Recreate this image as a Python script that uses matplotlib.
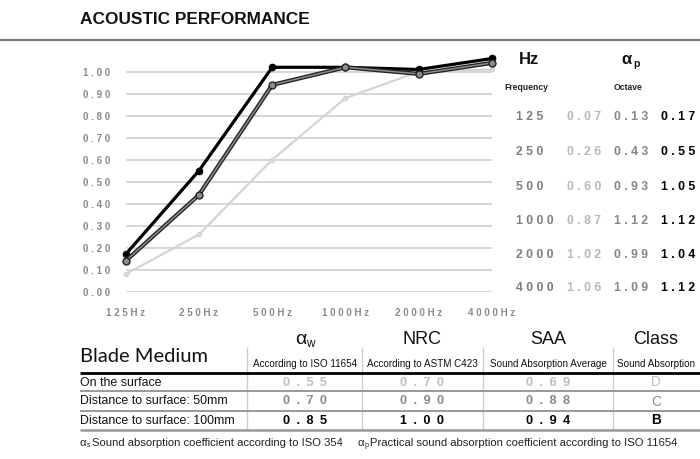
import matplotlib
matplotlib.use("Agg")
import matplotlib.pyplot as plt
from matplotlib.transforms import Affine2D
from matplotlib.lines import Line2D

# chart data
freq_labels = ["125Hz", "250Hz", "500Hz", "1000Hz", "2000Hz", "4000Hz"]
surface_curve = [0.08, 0.26, 0.60, 0.88, 1.00, 1.01]
dist50_curve = [0.14, 0.44, 0.94, 1.02, 0.99, 1.04]
dist100_curve = [0.17, 0.55, 1.02, 1.02, 1.01, 1.06]
y_ticks = [0.0, 0.1, 0.2, 0.3, 0.4, 0.5, 0.6, 0.7, 0.8, 0.9, 1.0]

# octave table
freqs = ["125", "250", "500", "1000", "2000", "4000"]
ap_surface = ["0.07", "0.26", "0.60", "0.87", "1.02", "1.06"]
ap_50 = ["0.13", "0.43", "0.93", "1.12", "0.99", "1.09"]
ap_100 = ["0.17", "0.55", "1.05", "1.12", "1.04", "1.12"]

# summary table
row_names = ["On the surface", "Distance to surface: 50mm", "Distance to surface: 100mm"]
aw_vals = ["0.55", "0.70", "0.85"]
nrc_vals = ["0.70", "0.90", "1.00"]
saa_vals = ["0.69", "0.88", "0.94"]
class_vals = ["D", "C", "B"]

W, H = 700, 459
fig = plt.figure(figsize=(W / 100, H / 100), dpi=100)
fig.patch.set_facecolor("white")
# pixel coordinates, origin top-left
tr = Affine2D().scale(1 / W, -1 / H).translate(0, 1) + fig.transFigure
FONT = ["Liberation Sans", "DejaVu Sans"]


def spaced(s, sep=" "):
    return sep.join(list(s))


def hline(x0, x1, y, color, lw):
    fig.add_artist(Line2D([x0, x1], [y, y], transform=tr, color=color, lw=lw, solid_capstyle="butt"))


def vline(x, y0, y1, color, lw):
    fig.add_artist(Line2D([x, x], [y0, y1], transform=tr, color=color, lw=lw, solid_capstyle="butt"))


# title
fig.text(80, 20, "ACOUSTIC PERFORMANCE", transform=tr, family=FONT, fontsize=12.4,
         fontweight="bold", va="center", ha="left", color="#111111")
hline(0, 700, 39.5, "#7a7a7a", 1.6)

# chart
x0, x1 = 125.7, 492.0
y_bot, y_one = 291.7, 71.7
ax = fig.add_axes([x0 / W, 1 - y_bot / H, (x1 - x0) / W, (y_bot - y_one) * 1.1 / H])
ax.set_xlim(0, 5)
ax.set_ylim(0, 1.1)
for s in ax.spines.values():
    s.set_visible(False)
ax.set_yticks(y_ticks)
ax.set_yticklabels([spaced("%.2f" % v) for v in y_ticks], family=FONT, fontsize=7,
                   fontweight="bold", color="#8a8a8a")
ax.set_xticks(range(len(freq_labels)))
ax.set_xticklabels([spaced(f) for f in freq_labels], family=FONT, fontsize=7,
                   fontweight="bold", color="#8a8a8a")
ax.tick_params(axis="y", length=0, pad=11)
ax.tick_params(axis="x", length=0, pad=11.5)
ax.yaxis.grid(True, color="#cccccc", lw=1.1)
ax.set_axisbelow(True)

xs = range(len(freq_labels))
ax.plot(xs, surface_curve, color="#d4d4d4", lw=1.6, marker="o", ms=3,
        mfc="#dedede", mec="#d4d4d4", clip_on=False, zorder=3)
ax.plot(xs, dist100_curve, color="#000000", lw=2.3, marker="o", ms=4.5,
        mfc="#000000", mec="#000000", clip_on=False, zorder=4)
ax.plot(xs, dist50_curve, color="#222222", lw=3.0, clip_on=False, zorder=5)
ax.plot(xs, dist50_curve, color="#8c8c8c", lw=1.1, marker="o", ms=5,
        mfc="#8c8c8c", mec="#222222", mew=1.0, clip_on=False, zorder=6)

# octave table on the right
fig.text(519, 59, "Hz", transform=tr, family=FONT, fontsize=12, fontweight="bold",
         va="center", ha="left", color="#111111")
fig.text(621.5, 59, "α", transform=tr, family=FONT, fontsize=12, fontweight="bold",
         va="center", ha="left", color="#111111")
fig.text(633, 64, "p", transform=tr, family=FONT, fontsize=7.5, fontweight="bold",
         va="center", ha="left", color="#111111")
fig.text(504, 88, "Frequency", transform=tr, family=FONT, fontsize=6.2, fontweight="bold",
         va="center", ha="left", color="#222222")
fig.text(614, 88, "Octave", transform=tr, family=FONT, fontsize=6.2, fontweight="bold",
         va="center", ha="left", color="#222222")
row_y = [116.7, 151.7, 186.7, 221, 255, 288]
for i, y in enumerate(row_y):
    fig.text(516, y, spaced(freqs[i]), transform=tr, family=FONT, fontsize=8.8,
             fontweight="bold", va="center", ha="left", color="#7f7f7f")
    fig.text(567, y, spaced(ap_surface[i]), transform=tr, family=FONT, fontsize=8.8,
             fontweight="bold", va="center", ha="left", color="#b8b8b8")
    fig.text(614, y, spaced(ap_50[i]), transform=tr, family=FONT, fontsize=8.8,
             fontweight="bold", va="center", ha="left", color="#858585")
    fig.text(661, y, spaced(ap_100[i]), transform=tr, family=FONT, fontsize=8.8,
             fontweight="bold", va="center", ha="left", color="#000000")

# summary table
fig.text(80, 357, "Blade Medium", transform=tr, family=["Lato", "DejaVu Sans"], fontsize=14.5,
         va="center", ha="left", color="#111111")
col_x = [305, 422, 548, 656]
heads = ["NRC", "SAA", "Class"]
subs = ["According to ISO 11654", "According to ASTM C423", "Sound Absorption Average",
        "Sound Absorption"]
fig.text(col_x[0] + 1, 340, "α", transform=tr, family=FONT, fontsize=14,
         va="center", ha="right", color="#111111")
fig.text(col_x[0] + 1.5, 344, "w", transform=tr, family=FONT, fontsize=8.5,
         va="center", ha="left", color="#111111")
for cx, h in zip(col_x[1:], heads):
    fig.text(cx, 339, h, transform=tr, family=FONT, fontsize=13,
             va="center", ha="center", color="#111111")
for cx, s in zip(col_x, subs):
    fig.text(cx, 364, s, transform=tr, family=FONT, fontsize=7.1,
             va="center", ha="center", color="#111111")

for vx in [247, 362, 483, 613]:
    vline(vx, 347, 430, "#cccccc", 1.0)
hline(80, 700, 373.3, "#000000", 2.0)
hline(80, 700, 391, "#999999", 1.4)
hline(80, 700, 410.7, "#999999", 1.4)
hline(80, 700, 430, "#999999", 1.8)

val_y = [382.5, 401.5, 420.5]
val_colors = ["#bdbdbd", "#8a8a8a", "#000000"]
for i, y in enumerate(val_y):
    fig.text(80, y, row_names[i], transform=tr, family=FONT, fontsize=8.9,
             va="center", ha="left", color="#111111")
    for cx, v in zip(col_x[:3], [aw_vals[i], nrc_vals[i], saa_vals[i]]):
        fig.text(cx, y, spaced(v, "\u2002"), transform=tr, family=FONT, fontsize=9.2,
                 fontweight="bold", va="center", ha="center", color=val_colors[i])
    fig.text(col_x[3], y, class_vals[i], transform=tr, family=FONT, fontsize=9.8,
             fontweight="bold" if i == 2 else "normal", va="center", ha="center",
             color=val_colors[i])

# footnotes
fig.text(80, 443, "α", transform=tr, family=FONT, fontsize=8.1, va="center", ha="left", color="#222222")
fig.text(86.5, 445.5, "s", transform=tr, family=FONT, fontsize=5.2, va="center", ha="left", color="#222222")
fig.text(92, 443, "Sound absorption coefficient according to ISO 354", transform=tr, family=FONT,
         fontsize=8.1, va="center", ha="left", color="#222222")
fig.text(358, 443, "α", transform=tr, family=FONT, fontsize=8.1, va="center", ha="left", color="#222222")
fig.text(364.5, 445.5, "p", transform=tr, family=FONT, fontsize=5.2, va="center", ha="left", color="#222222")
fig.text(370, 443, "Practical sound absorption coefficient according to ISO 11654", transform=tr,
         family=FONT, fontsize=8.1, va="center", ha="left", color="#222222")

fig.savefig("out.png", dpi=100)
